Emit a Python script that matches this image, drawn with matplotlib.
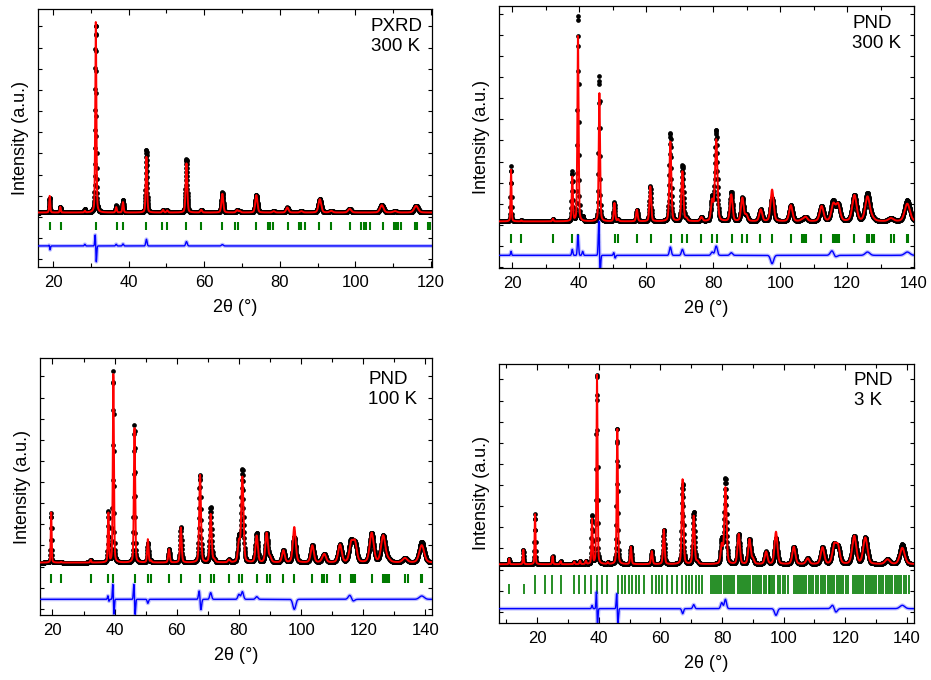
import numpy as np
import matplotlib
matplotlib.use("Agg")
import matplotlib.pyplot as plt
from matplotlib.ticker import MultipleLocator, FixedLocator, NullFormatter

plt.rcParams['font.family'] = ['Liberation Sans', 'DejaVu Sans']

# ---------------- Panel A : PXRD 300 K ----------------
a_title = "PXRD\n300 K"
a_peak_pos = [19.1, 21.9, 28.4, 31.3, 36.7, 38.5, 44.7, 49.1, 50.2, 55.3, 59.2, 64.8,
              68.7, 69.4, 73.8, 78.4, 82.0, 85.7, 90.6, 93.6, 98.5, 107.0, 110.5, 116.1]
a_peak_calc = [50, 17, 5, 570, 16, 31, 167, 8, 6, 147, 8, 56,
               7, 4, 52, 4, 15, 4, 40, 5, 11, 22, 4, 20]
a_mis_pos = [19.1, 28.4, 31.3, 36.7, 38.5, 44.7, 55.3, 64.8]
a_mis_sym = [-8, 5, -12, 5, 6, 20, 13, 4]
a_mis_asym = [6, 0, 40, 0, 0, 0, 0, 0]
a_refl = [19.1, 22.0, 31.3, 36.8, 38.5, 44.7, 48.8, 50.2, 55.3, 59.2, 64.8, 68.2, 68.9,
          73.8, 76.9, 77.5, 78.2, 82.2, 85.2, 85.7, 86.6, 90.4, 93.6, 98.7, 101.6, 102.3,
          102.9, 103.8, 107.3, 110.2, 110.8, 111.4, 112.2, 115.7, 116.4, 119.2, 119.9]

# ---------------- Panel B : PND 300 K ----------------
b_title = "PND\n300 K"
b_peak_pos = [19.6, 22.7, 32.1, 37.9, 39.6, 46.0, 50.5, 51.6, 57.2, 61.2, 67.2, 70.8,
              72.0, 76.5, 79.7, 80.9, 85.4, 88.7, 89.9, 94.2, 97.6, 103.2, 106.5, 107.6,
              112.4, 115.9, 117.3, 122.2, 126.1, 127.5, 133.1, 138.0]
b_peak_calc = [155, 3, 8, 132, 560, 385, 55, 6, 35, 105, 240, 150,
               8, 12, 60, 245, 80, 70, 18, 35, 95, 48, 4, 13,
               45, 50, 50, 78, 73, 8, 9, 53]
b_mis_pos = [19.6, 37.9, 39.6, 41.0, 46.0, 50.5, 67.2, 70.8, 79.7, 80.9, 85.4, 97.6, 115.9, 126.1, 138.0]
b_mis_sym = [12, 18, 60, 12, 35, 0, 25, 18, 10, 28, 8, -25, 8, 10, 10]
b_mis_asym = [0, 0, 0, 0, 80, 8, 0, 0, 0, 0, 0, 0, 8, 0, 0]
b_refl = [19.7, 22.7, 32.1, 37.9, 39.6, 45.9, 50.6, 51.6, 57.3, 61.3, 67.3, 70.8, 72.1,
          76.5, 79.7, 81.0, 85.5, 88.7, 90.0, 94.1, 97.6, 103.1, 106.4, 107.1, 107.8,
          112.3, 115.8, 116.3, 117.0, 117.5, 122.0, 126.0, 126.7, 127.5, 128.0, 133.2,
          134.0, 137.9, 138.2]

# ---------------- Panel C : PND 100 K ----------------
c_title = "PND\n100 K"
c_peak_pos = [19.6, 22.8, 32.3, 38.0, 39.6, 46.4, 50.7, 51.7, 57.5, 61.3, 67.5, 70.9,
              72.0, 76.8, 80.0, 81.1, 85.7, 88.9, 90.0, 94.3, 97.8, 103.6, 106.8, 107.5,
              112.5, 116.1, 117.3, 122.7, 126.4, 128.0, 133.4, 138.8]
c_peak_calc = [150, 2, 8, 148, 568, 405, 70, 5, 40, 105, 263, 145,
               8, 8, 60, 255, 80, 88, 15, 36, 106, 51, 5, 23,
               53, 55, 58, 88, 80, 8, 13, 52]
c_mis_pos = [38.0, 39.6, 46.4, 50.7, 67.5, 70.9, 80.0, 81.1, 85.7, 97.8, 116.1, 138.8]
c_mis_sym = [4, 0, 0, -12, -5, 20, 15, 23, 8, -30, 6, 10]
c_mis_asym = [8, 45, 45, 0, 28, 0, 0, 0, 0, 0, 8, 0]
c_refl = [19.6, 22.8, 32.3, 38.0, 39.6, 46.4, 50.7, 51.7, 57.5, 61.3, 67.5, 70.9, 72.0,
          76.8, 80.0, 81.1, 85.7, 88.9, 90.0, 94.3, 97.8, 103.6, 106.8, 107.5, 108.2,
          112.5, 116.1, 116.6, 117.3, 122.7, 126.4, 127.0, 127.5, 128.3, 133.4, 134.5,
          138.6, 139.0]

# ---------------- Panel D : PND 3 K ----------------
d_title = "PND\n3 K"
d_peak_pos = [10.9, 15.5, 19.3, 25.0, 27.6, 32.0, 33.9, 35.8, 37.8, 39.4, 42.9, 46.0,
              50.4, 57.2, 61.1, 67.2, 70.8, 72.0, 79.9, 81.1, 85.4, 88.9, 90.0, 94.3,
              97.5, 103.3, 107.8, 112.6, 116.4, 117.6, 122.9, 126.5, 133.7, 138.5]
d_peak_calc = [17, 44, 150, 24, 9, 8, 10, 10, 135, 567, 5, 405,
               52, 39, 104, 255, 145, 8, 56, 229, 90, 74, 15, 37,
               97, 52, 17, 50, 54, 52, 84, 79, 14, 49]
d_mis_pos = [37.8, 39.4, 46.0, 67.2, 70.8, 79.9, 81.1, 97.5, 116.4, 138.5]
d_mis_sym = [10, 0, 0, -15, 12, 18, 28, -20, 0, 10]
d_mis_asym = [0, 50, 45, 0, 0, 0, 0, 0, 10, 0]
d_refl_upper = [19.2, 22.4, 24.9, 27.6, 31.9, 33.6, 35.5, 37.4, 39.3, 41.1, 42.8, 46.2,
                47.4, 48.5, 49.8, 50.9, 52.0, 53.1, 54.7, 57.4, 58.5, 59.5, 60.6, 62.2,
                63.7, 65.5, 66.9, 68.2, 69.3, 70.4, 71.5, 72.5, 73.6,
                76.4, 77.1, 77.8, 78.5, 79.1, 79.8, 80.5, 81.2, 81.9, 82.6, 83.3, 84.0,
                85.1, 85.8, 86.5, 87.2, 87.9, 88.5, 89.2, 89.9, 90.6, 91.3, 92.0, 92.7,
                93.7, 94.4, 95.1, 95.7, 96.3, 97.0, 98.1, 98.9, 99.7, 100.5, 101.3,
                103.2, 103.9, 104.6, 105.3, 106.0, 106.7, 107.4, 108.2, 108.9, 109.6,
                110.4, 111.1, 112.1, 112.8, 113.5, 114.3, 115.0, 115.7, 116.4, 117.2,
                117.9, 118.6, 119.3, 120.1, 120.8, 122.4, 123.1, 123.8, 124.5, 125.2,
                125.9, 126.6, 127.3, 128.0, 128.7, 129.4, 130.1, 130.8, 131.5, 132.2,
                133.2, 133.9, 134.6, 135.3, 136.0, 136.8, 137.5, 138.2, 138.9, 139.7, 140.8]
d_refl_lower_extra = [10.8, 15.7]

# ---------------- layout (fig pixels: left, right, top, bottom) ----------------
W, H = 931, 680
panels = [
    dict(title=a_title, pos=a_peak_pos, calc=a_peak_calc, mpos=a_mis_pos, msym=a_mis_sym,
         masym=a_mis_asym, refl=[(a_refl, -53, -28)], box=(38, 432, 9, 267),
         xlim=(16, 120.3), ylim=(-163, 609), step=0.03, w=(0.28, 0.00007), diff0=-100,
         ytick0=-13, txt=(0.845, 0.967), rlw=1.5),
    dict(title=b_title, pos=b_peak_pos, calc=b_peak_calc, mpos=b_mis_pos, msym=b_mis_sym,
         masym=b_mis_asym, refl=[(b_refl, -65, -38)], box=(499, 914, 6, 268),
         xlim=(16, 140), ylim=(-140, 647), step=0.06, w=(0.3, 0.00008), diff0=-102,
         ytick0=-10, txt=(0.851, 0.966), rlw=1.5),
    dict(title=c_title, pos=c_peak_pos, calc=c_peak_calc, mpos=c_mis_pos, msym=c_mis_sym,
         masym=c_mis_asym, refl=[(c_refl, -60, -34)], box=(40, 432, 358, 615),
         xlim=(16, 142.1), ylim=(-157, 613), step=0.06, w=(0.3, 0.00008), diff0=-110,
         ytick0=-12, txt=(0.837, 0.95), rlw=1.5),
    dict(title=d_title, pos=d_peak_pos, calc=d_peak_calc, mpos=d_mis_pos, msym=d_mis_sym,
         masym=d_mis_asym, refl=[(d_refl_upper, -88, -31), (d_refl_lower_extra, -88, -60)],
         box=(499, 914, 364, 623), xlim=(7.6, 142.3), ylim=(-176, 600), step=0.06,
         w=(0.3, 0.00008), diff0=-133, ytick0=-16, txt=(0.855, 0.97), rlw=1.2),
]


def peaks(x, pos, hts, w0, w2, eta=0.3):
    y = np.zeros_like(x)
    for p, a in zip(pos, hts):
        w = w0 + w2 * p ** 2
        d = (x - p) / w
        y += a * (eta / (1 + 4 * d ** 2) + (1 - eta) * np.exp(-4 * np.log(2) * d ** 2))
    return y


def misfit(x, pos, sym, asym, w0, w2):
    y = np.zeros_like(x)
    for p, s, a in zip(pos, sym, asym):
        sig = (w0 + w2 * p ** 2) / 2.355
        u = (x - p) / sig
        y += s * np.exp(-u ** 2 / 2) + a * (-u) * np.exp(0.5 - u ** 2 / 2)
    return y


fig = plt.figure(figsize=(W / 100, H / 100), dpi=100)

for P in panels:
    l, r, t, b = P['box']
    ax = fig.add_axes([l / W, (H - b) / H, (r - l) / W, (b - t) / H])
    x = np.arange(P['xlim'][0], P['xlim'][1] + P['step'], P['step'])
    w0, w2 = P['w']
    calc = peaks(x, P['pos'], P['calc'], w0, w2)
    mis = misfit(x, P['mpos'], P['msym'], P['masym'], w0, w2)
    obs = calc + mis
    diff = obs - calc + P['diff0']

    ax.plot(x, obs, 'o', ms=3.4, color='black', mew=0, zorder=2)
    ax.plot(x, calc, '-', color='#ff0000', lw=1.4, zorder=3)
    for refl, y0, y1 in P['refl']:
        ax.vlines(refl, y0, y1, color='#007a00', lw=P['rlw'], zorder=2)
    ax.plot(x, diff, '-', color='#0000ff', lw=2.8, alpha=0.25, zorder=2)
    ax.plot(x, diff, '-', color='#0000ff', lw=1.0, zorder=3)

    ax.set_xlim(*P['xlim'])
    ax.set_ylim(*P['ylim'])
    ax.xaxis.set_major_locator(MultipleLocator(20))
    ax.xaxis.set_minor_locator(MultipleLocator(10))
    yt = np.arange(P['ytick0'] - 63.3 * 4, P['ylim'][1], 63.3)
    ax.yaxis.set_major_locator(FixedLocator(yt))
    ax.yaxis.set_major_formatter(NullFormatter())
    ax.tick_params(axis='both', which='both', direction='in', top=True, right=True,
                   width=0.8, colors='black')
    ax.tick_params(axis='x', which='major', length=4, pad=6, labelsize=12)
    ax.tick_params(axis='x', which='minor', length=3)
    ax.tick_params(axis='y', which='major', length=3)
    for s in ax.spines.values():
        s.set_linewidth(0.9)
    ax.set_xlabel('2θ (°)', fontsize=13, labelpad=6)
    ax.set_ylabel('Intensity (a.u.)', fontsize=13, labelpad=3)
    ax.text(P['txt'][0], P['txt'][1], P['title'], transform=ax.transAxes,
            ha='left', va='top', fontsize=13.5, linespacing=1.25)

fig.savefig('out.png', dpi=100)
